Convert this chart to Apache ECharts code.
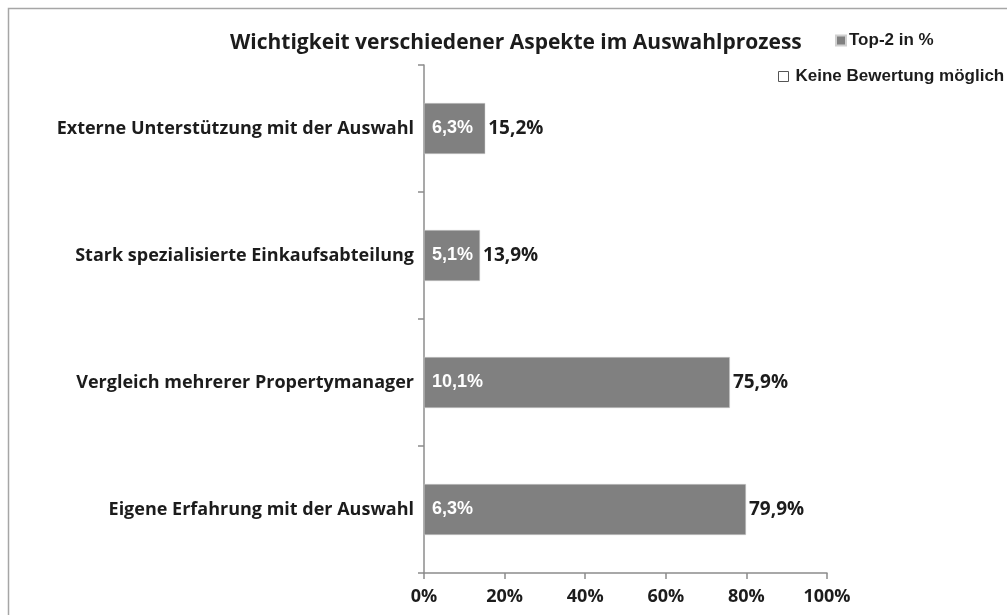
<!DOCTYPE html>
<html>
<head>
<meta charset="utf-8">
<script src="https://cdn.jsdelivr.net/npm/echarts@6/dist/echarts.min.js"></script>
<style>
  html, body { margin: 0; padding: 0; background: #fff; }
  #chart { width: 1007px; height: 615px; }
</style>
</head>
<body>
<div id="chart"></div>
<script>
const categories = [
  'Externe Unterstützung mit der Auswahl',
  'Stark spezialisierte Einkaufsabteilung',
  'Vergleich mehrerer Propertymanager',
  'Eigene Erfahrung mit der Auswahl'
]
const top2Values = [15.2, 13.9, 75.9, 79.9]
const keineValues = [6.3, 5.1, 10.1, 6.3]
const xTicks = [0, 20, 40, 60, 80, 100]

const fmt = v => String(v).replace('.', ',') + '%'
const calibri = '"Open Sans", "Noto Sans", sans-serif'
const arial = '"Liberation Sans", Arial, sans-serif'

const chart = echarts.init(document.getElementById('chart'))
const option = {
  animation: false,
  title: {
    text: 'Wichtigkeit verschiedener Aspekte im Auswahlprozess',
    left: 225,
    top: 28,
    textStyle: {
      color: '#1c1c1c',
      fontFamily: calibri,
      fontSize: 21,
      fontWeight: 'bold'
    }
  },
  legend: [
    {
      data: [{ name: 'Top-2 in %', itemStyle: { color: '#808080' } }],
      left: 830,
      top: 27,
      itemWidth: 10,
      itemHeight: 10,
      itemGap: 3,
      icon: 'rect',
      textStyle: { fontFamily: arial, fontSize: 17, fontWeight: 'bold', color: '#1c1c1c', padding: [0, 0, 0, -2] }
    },
    {
      data: [{ name: 'Keine Bewertung möglich', itemStyle: { color: '#fff', borderColor: '#555', borderWidth: 1 } }],
      left: 773,
      top: 63,
      itemWidth: 10,
      itemHeight: 10,
      itemGap: 3,
      icon: 'rect',
      textStyle: { fontFamily: arial, fontSize: 17, fontWeight: 'bold', color: '#1c1c1c', padding: [0, 0, 0, 2] }
    }
  ],
  graphic: [
    {
      type: 'rect',
      shape: { x: 8.5, y: 8.5, width: 1010, height: 620 },
      style: { fill: 'none', stroke: '#a6a6a6', lineWidth: 1.5 },
      silent: true
    }
  ],
  grid: {
    left: 424,
    right: 180,
    top: 65,
    bottom: 42
  },
  xAxis: {
    type: 'value',
    min: 0,
    max: 100,
    interval: 20,
    splitLine: { show: false },
    axisLine: { show: true, lineStyle: { color: '#8c8c8c', width: 1.5 } },
    axisTick: { show: true, length: 6, lineStyle: { color: '#8c8c8c', width: 1.5 } },
    axisLabel: {
      formatter: v => (xTicks.includes(v) ? v + '%' : ''),
      color: '#1c1c1c',
      fontFamily: calibri,
      fontSize: 18,
      fontWeight: 'bold',
      margin: 15
    }
  },
  yAxis: {
    type: 'category',
    inverse: true,
    data: categories,
    axisLine: { lineStyle: { color: '#8c8c8c', width: 1.5 } },
    axisTick: { show: true, length: 6, lineStyle: { color: '#8c8c8c', width: 1.5 } },
    axisLabel: {
      color: '#1c1c1c',
      fontFamily: calibri,
      fontSize: 18,
      fontWeight: 'bold',
      margin: 10
    }
  },
  series: [
    {
      name: 'Top-2 in %',
      type: 'bar',
      data: top2Values,
      barWidth: 51,
      itemStyle: { color: '#808080', borderColor: '#d0d0d0', borderWidth: 0.5 },
      label: {
        show: true,
        position: 'right',
        distance: 3,
        formatter: p => fmt(p.value),
        color: '#1c1c1c',
        fontFamily: calibri,
        fontSize: 19,
        fontWeight: 'bold'
      }
    },
    {
      name: 'Keine Bewertung möglich',
      type: 'bar',
      data: keineValues,
      barWidth: 51,
      barGap: '-100%',
      z: 3,
      itemStyle: { color: 'rgba(0,0,0,0)' },
      label: {
        show: true,
        position: 'insideLeft',
        distance: 8,
        formatter: p => fmt(p.value),
        color: '#fff',
        fontFamily: arial,
        fontSize: 18,
        fontWeight: 'bold'
      }
    }
  ]
}
chart.setOption(option)
</script>
</body>
</html>
